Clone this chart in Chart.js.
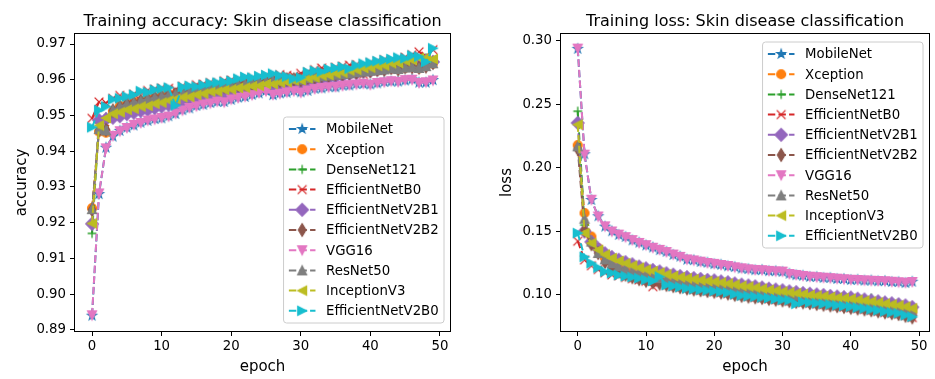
<!DOCTYPE html>
<html>
<head>
<meta charset="utf-8">
<script src="https://cdn.jsdelivr.net/npm/chart.js@4.4.0/dist/chart.umd.min.js"></script>
<style>
  body { margin: 0; background: #fff; width: 935px; height: 379px; overflow: hidden; position: relative; }
  canvas { position: absolute; top: 0; }
</style>
</head>
<body>
<canvas id="accChart" width="470" height="379" style="left:0"></canvas>
<canvas id="lossChart" width="465" height="379" style="left:470px"></canvas>
<script>
const epochs = [0, 1, 2, 3, 4, 5, 6, 7, 8, 9, 10, 11, 12, 13, 14, 15, 16, 17, 18, 19,
  20, 21, 22, 23, 24, 25, 26, 27, 28, 29, 30, 31, 32, 33, 34, 35, 36, 37, 38, 39,
  40, 41, 42, 43, 44, 45, 46, 47, 48, 49];
const modelNames = ['MobileNet', 'Xception', 'DenseNet121', 'EfficientNetB0', 'EfficientNetV2B1',
  'EfficientNetV2B2', 'VGG16', 'ResNet50', 'InceptionV3', 'EfficientNetV2B0'];
const epochTicks = [0, 10, 20, 30, 40, 50];
const accTicks = [0.89, 0.90, 0.91, 0.92, 0.93, 0.94, 0.95, 0.96, 0.97];
const lossTicks = [0.10, 0.15, 0.20, 0.25, 0.30];

// training accuracy per model
const accMobileNet = [0.8940, 0.9280, 0.9410, 0.9441, 0.9457, 0.9466, 0.9472, 0.9480, 0.9485, 0.9490,
  0.9492, 0.9498, 0.9504, 0.9515, 0.9520, 0.9527, 0.9530, 0.9535, 0.9538, 0.9538,
  0.9544, 0.9550, 0.9552, 0.9558, 0.9562, 0.9569, 0.9557, 0.9562, 0.9564, 0.9569,
  0.9565, 0.9569, 0.9575, 0.9576, 0.9580, 0.9579, 0.9584, 0.9584, 0.9588, 0.9588,
  0.9587, 0.9590, 0.9594, 0.9595, 0.9595, 0.9598, 0.9601, 0.9592, 0.9592, 0.9599];
const accXception = [0.9241, 0.9455, 0.9452, 0.9512, 0.9527, 0.9530, 0.9538, 0.9540, 0.9547, 0.9549,
  0.9555, 0.9556, 0.9561, 0.9562, 0.9567, 0.9568, 0.9573, 0.9574, 0.9579, 0.9581,
  0.9582, 0.9587, 0.9587, 0.9591, 0.9592, 0.9596, 0.9596, 0.9599, 0.9599, 0.9603,
  0.9601, 0.9604, 0.9609, 0.9609, 0.9613, 0.9613, 0.9617, 0.9617, 0.9622, 0.9622,
  0.9626, 0.9626, 0.9630, 0.9631, 0.9631, 0.9633, 0.9637, 0.9632, 0.9639, 0.9645];
const accDenseNet121 = [0.9170, 0.9480, 0.9495, 0.9503, 0.9511, 0.9514, 0.9521, 0.9523, 0.9529, 0.9531,
  0.9538, 0.9540, 0.9547, 0.9549, 0.9554, 0.9556, 0.9563, 0.9565, 0.9568, 0.9570,
  0.9574, 0.9576, 0.9579, 0.9580, 0.9585, 0.9586, 0.9589, 0.9590, 0.9594, 0.9596,
  0.9600, 0.9602, 0.9607, 0.9610, 0.9614, 0.9616, 0.9621, 0.9624, 0.9629, 0.9631,
  0.9635, 0.9637, 0.9641, 0.9644, 0.9648, 0.9650, 0.9656, 0.9640, 0.9661, 0.9648];
const accEfficientNetB0 = [0.9492, 0.9538, 0.9535, 0.9548, 0.9556, 0.9553, 0.9560, 0.9565, 0.9570, 0.9574,
  0.9577, 0.9576, 0.9572, 0.9582, 0.9580, 0.9586, 0.9588, 0.9592, 0.9590, 0.9597,
  0.9599, 0.9601, 0.9606, 0.9604, 0.9609, 0.9612, 0.9610, 0.9614, 0.9612, 0.9610,
  0.9618, 0.9622, 0.9628, 0.9633, 0.9627, 0.9635, 0.9638, 0.9641, 0.9642, 0.9615,
  0.9648, 0.9652, 0.9656, 0.9654, 0.9660, 0.9663, 0.9670, 0.9678, 0.9666, 0.9684];
const accEfficientNetV2B1 = [0.9197, 0.9487, 0.9490, 0.9494, 0.9498, 0.9504, 0.9508, 0.9513, 0.9516, 0.9521,
  0.9525, 0.9530, 0.9535, 0.9539, 0.9542, 0.9547, 0.9550, 0.9555, 0.9557, 0.9561,
  0.9563, 0.9567, 0.9569, 0.9572, 0.9574, 0.9578, 0.9579, 0.9582, 0.9584, 0.9588,
  0.9590, 0.9594, 0.9597, 0.9602, 0.9604, 0.9608, 0.9611, 0.9616, 0.9619, 0.9623,
  0.9625, 0.9629, 0.9631, 0.9636, 0.9638, 0.9643, 0.9646, 0.9651, 0.9653, 0.9650];
const accEfficientNetV2B2 = [0.9236, 0.9458, 0.9460, 0.9514, 0.9524, 0.9533, 0.9535, 0.9542, 0.9545, 0.9551,
  0.9553, 0.9558, 0.9559, 0.9564, 0.9565, 0.9570, 0.9571, 0.9576, 0.9577, 0.9581,
  0.9584, 0.9585, 0.9589, 0.9589, 0.9594, 0.9594, 0.9598, 0.9597, 0.9601, 0.9601,
  0.9599, 0.9606, 0.9607, 0.9611, 0.9611, 0.9615, 0.9615, 0.9619, 0.9620, 0.9624,
  0.9624, 0.9628, 0.9628, 0.9633, 0.9629, 0.9635, 0.9635, 0.9634, 0.9637, 0.9647];
const accVGG16 = [0.8941, 0.9282, 0.9408, 0.9443, 0.9456, 0.9465, 0.9474, 0.9479, 0.9486, 0.9489,
  0.9493, 0.9497, 0.9505, 0.9514, 0.9521, 0.9526, 0.9531, 0.9534, 0.9539, 0.9537,
  0.9545, 0.9549, 0.9553, 0.9557, 0.9563, 0.9568, 0.9558, 0.9561, 0.9565, 0.9568,
  0.9564, 0.9570, 0.9574, 0.9577, 0.9579, 0.9580, 0.9583, 0.9585, 0.9587, 0.9589,
  0.9586, 0.9591, 0.9593, 0.9596, 0.9594, 0.9599, 0.9600, 0.9591, 0.9593, 0.9598];
const accResNet50 = [0.9238, 0.9462, 0.9458, 0.9515, 0.9525, 0.9532, 0.9536, 0.9541, 0.9546, 0.9550,
  0.9554, 0.9557, 0.9560, 0.9563, 0.9566, 0.9569, 0.9572, 0.9575, 0.9578, 0.9580,
  0.9583, 0.9586, 0.9588, 0.9590, 0.9593, 0.9595, 0.9597, 0.9598, 0.9600, 0.9602,
  0.9600, 0.9605, 0.9608, 0.9610, 0.9612, 0.9614, 0.9616, 0.9618, 0.9621, 0.9623,
  0.9625, 0.9627, 0.9629, 0.9632, 0.9630, 0.9634, 0.9636, 0.9633, 0.9638, 0.9646];
const accInceptionV3 = [0.9198, 0.9472, 0.9493, 0.9505, 0.9509, 0.9516, 0.9519, 0.9525, 0.9527, 0.9533,
  0.9536, 0.9542, 0.9546, 0.9551, 0.9552, 0.9558, 0.9561, 0.9567, 0.9567, 0.9572,
  0.9573, 0.9577, 0.9578, 0.9582, 0.9583, 0.9588, 0.9588, 0.9592, 0.9593, 0.9598,
  0.9599, 0.9604, 0.9606, 0.9612, 0.9613, 0.9618, 0.9620, 0.9626, 0.9628, 0.9633,
  0.9634, 0.9639, 0.9640, 0.9646, 0.9647, 0.9653, 0.9655, 0.9661, 0.9662, 0.9658];
const accEfficientNetV2B0 = [0.9467, 0.9515, 0.9525, 0.9545, 0.9548, 0.9553, 0.9558, 0.9568, 0.9565, 0.9572,
  0.9575, 0.9578, 0.9528, 0.9580, 0.9583, 0.9581, 0.9585, 0.9590, 0.9592, 0.9594,
  0.9597, 0.9603, 0.9608, 0.9606, 0.9610, 0.9613, 0.9617, 0.9612, 0.9609, 0.9603,
  0.9606, 0.9621, 0.9625, 0.9623, 0.9630, 0.9633, 0.9636, 0.9631, 0.9640, 0.9645,
  0.9648, 0.9652, 0.9655, 0.9658, 0.9662, 0.9660, 0.9668, 0.9665, 0.9650, 0.9688];

// training loss per model
const lossMobileNet = [0.2938, 0.2108, 0.1748, 0.1620, 0.1538, 0.1502, 0.1473, 0.1457, 0.1430, 0.1412,
  0.1390, 0.1374, 0.1353, 0.1340, 0.1316, 0.1302, 0.1278, 0.1274, 0.1260, 0.1254,
  0.1243, 0.1238, 0.1226, 0.1220, 0.1208, 0.1204, 0.1195, 0.1197, 0.1188, 0.1188,
  0.1182, 0.1167, 0.1156, 0.1152, 0.1142, 0.1142, 0.1134, 0.1134, 0.1126, 0.1126,
  0.1118, 0.1120, 0.1113, 0.1114, 0.1108, 0.1110, 0.1102, 0.1102, 0.1094, 0.1104];
const lossXception = [0.2180, 0.1645, 0.1460, 0.1368, 0.1290, 0.1255, 0.1230, 0.1208, 0.1190, 0.1175,
  0.1160, 0.1147, 0.1135, 0.1122, 0.1112, 0.1102, 0.1092, 0.1084, 0.1077, 0.1070,
  0.1064, 0.1058, 0.1052, 0.1047, 0.1042, 0.1037, 0.1032, 0.1026, 0.1020, 0.1014,
  0.1008, 0.1002, 0.0997, 0.0992, 0.0986, 0.0980, 0.0974, 0.0968, 0.0962, 0.0957,
  0.0952, 0.0946, 0.0940, 0.0934, 0.0928, 0.0922, 0.0914, 0.0907, 0.0897, 0.0875];
const lossDenseNet121 = [0.2447, 0.1550, 0.1430, 0.1362, 0.1322, 0.1293, 0.1272, 0.1252, 0.1236, 0.1218,
  0.1204, 0.1190, 0.1179, 0.1165, 0.1153, 0.1142, 0.1134, 0.1126, 0.1120, 0.1112,
  0.1108, 0.1100, 0.1093, 0.1084, 0.1075, 0.1068, 0.1061, 0.1052, 0.1043, 0.1036,
  0.1030, 0.1022, 0.1016, 0.1008, 0.1003, 0.0997, 0.0993, 0.0986, 0.0981, 0.0976,
  0.0973, 0.0964, 0.0958, 0.0975, 0.0945, 0.0937, 0.0928, 0.0935, 0.0912, 0.0900];
const lossEfficientNetB0 = [0.1423, 0.1276, 0.1230, 0.1200, 0.1175, 0.1158, 0.1150, 0.1138, 0.1128, 0.1118,
  0.1108, 0.1065, 0.1098, 0.1075, 0.1065, 0.1058, 0.1048, 0.1040, 0.1035, 0.1030,
  0.1024, 0.1018, 0.1010, 0.1000, 0.0992, 0.0986, 0.0980, 0.0975, 0.0968, 0.0962,
  0.0956, 0.0950, 0.0944, 0.0940, 0.0935, 0.0928, 0.0922, 0.0916, 0.0910, 0.0904,
  0.0898, 0.0892, 0.0885, 0.0878, 0.0870, 0.0862, 0.0855, 0.0848, 0.0835, 0.0822];
const lossEfficientNetV2B1 = [0.2355, 0.1500, 0.1418, 0.1364, 0.1327, 0.1298, 0.1277, 0.1258, 0.1241, 0.1223,
  0.1209, 0.1196, 0.1185, 0.1170, 0.1159, 0.1148, 0.1140, 0.1132, 0.1126, 0.1118,
  0.1114, 0.1106, 0.1099, 0.1090, 0.1081, 0.1074, 0.1067, 0.1058, 0.1049, 0.1042,
  0.1036, 0.1028, 0.1022, 0.1014, 0.1009, 0.1003, 0.0999, 0.0992, 0.0987, 0.0982,
  0.0979, 0.0970, 0.0964, 0.0956, 0.0949, 0.0940, 0.0934, 0.0926, 0.0917, 0.0904];
const lossEfficientNetV2B2 = [0.2150, 0.1510, 0.1400, 0.1330, 0.1260, 0.1215, 0.1185, 0.1160, 0.1140, 0.1125,
  0.1112, 0.1100, 0.1090, 0.1080, 0.1070, 0.1062, 0.1052, 0.1044, 0.1038, 0.1032,
  0.1026, 0.1020, 0.1012, 0.1002, 0.0994, 0.0988, 0.0982, 0.0977, 0.0970, 0.0964,
  0.0958, 0.0952, 0.0946, 0.0942, 0.0937, 0.0930, 0.0924, 0.0918, 0.0912, 0.0906,
  0.0900, 0.0894, 0.0887, 0.0880, 0.0872, 0.0864, 0.0857, 0.0850, 0.0837, 0.0824];
const lossVGG16 = [0.2940, 0.2105, 0.1750, 0.1618, 0.1540, 0.1500, 0.1475, 0.1455, 0.1432, 0.1410,
  0.1392, 0.1372, 0.1355, 0.1338, 0.1318, 0.1300, 0.1280, 0.1272, 0.1262, 0.1252,
  0.1245, 0.1236, 0.1228, 0.1218, 0.1210, 0.1202, 0.1197, 0.1195, 0.1190, 0.1186,
  0.1184, 0.1165, 0.1158, 0.1150, 0.1144, 0.1140, 0.1136, 0.1132, 0.1128, 0.1124,
  0.1120, 0.1118, 0.1115, 0.1112, 0.1110, 0.1108, 0.1104, 0.1100, 0.1096, 0.1102];
const lossResNet50 = [0.2170, 0.1600, 0.1420, 0.1330, 0.1280, 0.1250, 0.1225, 0.1205, 0.1188, 0.1172,
  0.1158, 0.1145, 0.1132, 0.1120, 0.1110, 0.1100, 0.1090, 0.1082, 0.1075, 0.1068,
  0.1062, 0.1056, 0.1050, 0.1045, 0.1040, 0.1035, 0.1030, 0.1024, 0.1018, 0.1012,
  0.1006, 0.1000, 0.0995, 0.0990, 0.0984, 0.0978, 0.0972, 0.0966, 0.0960, 0.0955,
  0.0950, 0.0944, 0.0938, 0.0932, 0.0926, 0.0920, 0.0912, 0.0900, 0.0885, 0.0872];
const lossInceptionV3 = [0.2342, 0.1487, 0.1408, 0.1355, 0.1318, 0.1290, 0.1268, 0.1250, 0.1232, 0.1215,
  0.1200, 0.1188, 0.1176, 0.1162, 0.1150, 0.1140, 0.1131, 0.1124, 0.1117, 0.1110,
  0.1105, 0.1098, 0.1090, 0.1082, 0.1072, 0.1066, 0.1058, 0.1050, 0.1040, 0.1034,
  0.1027, 0.1020, 0.1013, 0.1006, 0.1000, 0.0995, 0.0990, 0.0984, 0.0978, 0.0974,
  0.0970, 0.0962, 0.0955, 0.0948, 0.0940, 0.0932, 0.0925, 0.0918, 0.0908, 0.0895];
const lossEfficientNetV2B0 = [0.1487, 0.1300, 0.1250, 0.1215, 0.1184, 0.1172, 0.1157, 0.1148, 0.1140, 0.1131,
  0.1120, 0.1110, 0.1144, 0.1078, 0.1070, 0.1062, 0.1052, 0.1045, 0.1040, 0.1035,
  0.1030, 0.1025, 0.1018, 0.1005, 0.0995, 0.0990, 0.0986, 0.0980, 0.0975, 0.0968,
  0.0962, 0.0958, 0.0930, 0.0945, 0.0940, 0.0935, 0.0930, 0.0925, 0.0918, 0.0912,
  0.0907, 0.0900, 0.0893, 0.0885, 0.0878, 0.0870, 0.0862, 0.0855, 0.0840, 0.0828];

const accSeries = [accMobileNet, accXception, accDenseNet121, accEfficientNetB0, accEfficientNetV2B1,
  accEfficientNetV2B2, accVGG16, accResNet50, accInceptionV3, accEfficientNetV2B0];
const lossSeries = [lossMobileNet, lossXception, lossDenseNet121, lossEfficientNetB0, lossEfficientNetV2B1,
  lossEfficientNetV2B2, lossVGG16, lossResNet50, lossInceptionV3, lossEfficientNetV2B0];

const colors = ['#1f77b4', '#ff7f0e', '#2ca02c', '#d62728', '#9467bd',
  '#8c564b', '#e377c2', '#7f7f7f', '#bcbd22', '#17becf'];
const markerKinds = ['star', 'circle', 'plus', 'x', 'diamond', 'thin', 'down', 'up', 'left', 'right'];
const FONT = '"DejaVu Sans", sans-serif';

// matplotlib-like markers drawn once into small canvases
function makeMarker(kind, color) {
  const c = document.createElement('canvas');
  c.width = 20; c.height = 20;
  const g = c.getContext('2d');
  g.translate(10, 10);
  g.fillStyle = color;
  g.strokeStyle = color;
  g.lineWidth = 1.33;
  const s = 4.4;
  const poly = pts => { g.beginPath(); pts.forEach((p, i) => i ? g.lineTo(p[0], p[1]) : g.moveTo(p[0], p[1])); g.closePath(); g.fill(); g.stroke(); };
  if (kind === 'star') {
    const pts = [];
    for (let i = 0; i < 10; i++) {
      const r = i % 2 ? s * 0.381966 : s;
      const a = -Math.PI / 2 + i * Math.PI / 5;
      pts.push([r * Math.cos(a), r * Math.sin(a)]);
    }
    poly(pts);
  } else if (kind === 'circle') {
    g.beginPath(); g.arc(0, 0, s, 0, Math.PI * 2); g.fill(); g.stroke();
  } else if (kind === 'plus') {
    g.beginPath(); g.moveTo(-s, 0); g.lineTo(s, 0); g.moveTo(0, -s); g.lineTo(0, s); g.stroke();
  } else if (kind === 'x') {
    g.beginPath(); g.moveTo(-s, -s); g.lineTo(s, s); g.moveTo(-s, s); g.lineTo(s, -s); g.stroke();
  } else if (kind === 'diamond') {
    const d = s * 1.414; poly([[0, -d], [d, 0], [0, d], [-d, 0]]);
  } else if (kind === 'thin') {
    const d = s * 1.414; poly([[0, -d], [d * 0.6, 0], [0, d], [-d * 0.6, 0]]);
  } else if (kind === 'down') {
    poly([[0, s], [-s, -s], [s, -s]]);
  } else if (kind === 'up') {
    poly([[0, -s], [-s, s], [s, s]]);
  } else if (kind === 'left') {
    poly([[-s, 0], [s, -s], [s, s]]);
  } else if (kind === 'right') {
    poly([[s, 0], [-s, -s], [-s, s]]);
  }
  return c;
}
const markerImgs = markerKinds.map((k, i) => makeMarker(k, colors[i]));

function buildDatasets(series) {
  return series.map((vals, i) => ({
    label: modelNames[i],
    data: vals.map((v, k) => ({ x: epochs[k], y: v })),
    borderColor: colors[i],
    backgroundColor: colors[i],
    borderWidth: 2,
    borderDash: [7.4, 3.2],
    pointStyle: markerImgs[i],
    pointRadius: 4,
    fill: false,
    tension: 0,
    order: series.length - i
  }));
}

// axes frame, title and matplotlib-style legend
const framePlugin = {
  id: 'frame',
  afterDraw(chart, args, opts) {
    const { ctx, chartArea: a } = chart;
    ctx.save();
    ctx.strokeStyle = '#000';
    ctx.lineWidth = 1;
    ctx.setLineDash([]);
    ctx.strokeRect(a.left - 0.5, a.top - 0.5, a.right - a.left + 1, a.bottom - a.top + 1);

    ctx.fillStyle = '#000';
    ctx.font = '16px ' + FONT;
    ctx.textAlign = 'center';
    ctx.textBaseline = 'alphabetic';
    ctx.fillText(opts.title, (a.left + a.right) / 2, a.top - 8);

    const fs = 13.3;
    ctx.font = fs + 'px ' + FONT;
    const maxW = Math.max(...modelNames.map(n => ctx.measureText(n).width));
    const pad = 0.4 * fs, handle = 2 * fs, tpad = 0.8 * fs, rowH = 20.2;
    const w = pad + handle + tpad + maxW + pad;
    const h = 206;
    const x = a.right - 6 - w;
    const y = opts.legendPos === 'lower right' ? a.bottom - 8 - h : a.top + 8;
    const r = 3;
    ctx.beginPath();
    ctx.moveTo(x + r, y);
    ctx.lineTo(x + w - r, y); ctx.arcTo(x + w, y, x + w, y + r, r);
    ctx.lineTo(x + w, y + h - r); ctx.arcTo(x + w, y + h, x + w - r, y + h, r);
    ctx.lineTo(x + r, y + h); ctx.arcTo(x, y + h, x, y + h - r, r);
    ctx.lineTo(x, y + r); ctx.arcTo(x, y, x + r, y, r);
    ctx.closePath();
    ctx.fillStyle = 'rgba(255,255,255,0.8)';
    ctx.fill();
    ctx.strokeStyle = '#cccccc';
    ctx.stroke();

    modelNames.forEach((name, i) => {
      const cy = y + 12 + i * rowH;
      const hx = x + pad;
      ctx.strokeStyle = colors[i];
      ctx.lineWidth = 2;
      ctx.setLineDash([7.4, 3.2]);
      ctx.beginPath(); ctx.moveTo(hx, cy); ctx.lineTo(hx + handle, cy); ctx.stroke();
      ctx.setLineDash([]);
      const m = markerImgs[i];
      ctx.drawImage(m, hx + handle / 2 - m.width / 2, cy - m.height / 2);
      ctx.fillStyle = '#000';
      ctx.textAlign = 'left';
      ctx.textBaseline = 'middle';
      ctx.fillText(name, hx + handle + tpad, cy + 1);
    });
    ctx.restore();
  }
};

function makeChart(id, series, cfg) {
  const tickFont = { family: FONT, size: 13.3 };
  return new Chart(document.getElementById(id), {
    type: 'line',
    data: { datasets: buildDatasets(series) },
    plugins: [framePlugin],
    options: {
      responsive: false,
      animation: false,
      devicePixelRatio: 1,
      layout: { padding: { left: 0, right: cfg.padRight, top: 34, bottom: 0 } },
      plugins: {
        legend: { display: false },
        tooltip: { enabled: false },
        frame: { title: cfg.title, legendPos: cfg.legendPos }
      },
      scales: {
        x: {
          type: 'linear',
          min: -2.45,
          max: 51.45,
          afterBuildTicks: s => { s.ticks = epochTicks.map(v => ({ value: v })); },
          afterFit: s => { s.height = 48; s.paddingLeft = 0; s.paddingRight = 0; },
          ticks: { color: '#000', font: tickFont, padding: 3, maxRotation: 0, callback: v => String(v) },
          grid: { drawOnChartArea: false, drawTicks: true, tickLength: 5, color: '#000', tickColor: '#000' },
          border: { display: false },
          title: { display: true, text: 'epoch', color: '#000', font: { family: FONT, size: 15 }, padding: { top: 0, bottom: 3 } }
        },
        y: {
          type: 'linear',
          min: cfg.yMin,
          max: cfg.yMax,
          afterBuildTicks: s => { s.ticks = cfg.yTicks.map(v => ({ value: v })); },
          afterFit: s => { s.width = cfg.yWidth; s.paddingTop = 0; s.paddingBottom = 0; },
          ticks: { color: '#000', font: tickFont, padding: 4, callback: v => v.toFixed(2) },
          grid: { drawOnChartArea: false, drawTicks: true, tickLength: 5, color: '#000', tickColor: '#000' },
          border: { display: false },
          title: { display: true, text: cfg.yLabel, color: '#000', font: { family: FONT, size: 15 }, padding: { top: cfg.yLabelPad, bottom: 0 } }
        }
      }
    }
  });
}

makeChart('accChart', accSeries, {
  title: 'Training accuracy: Skin disease classification',
  yLabel: 'accuracy', yLabelPad: 13, yWidth: 75, padRight: 20,
  yMin: 0.8897, yMax: 0.9728, yTicks: accTicks, legendPos: 'lower right'
});

makeChart('lossChart', lossSeries, {
  title: 'Training loss: Skin disease classification',
  yLabel: 'loss', yLabelPad: 28, yWidth: 91, padRight: 0,
  yMin: 0.0716, yMax: 0.3055, yTicks: lossTicks, legendPos: 'upper right'
});
</script>
</body>
</html>
